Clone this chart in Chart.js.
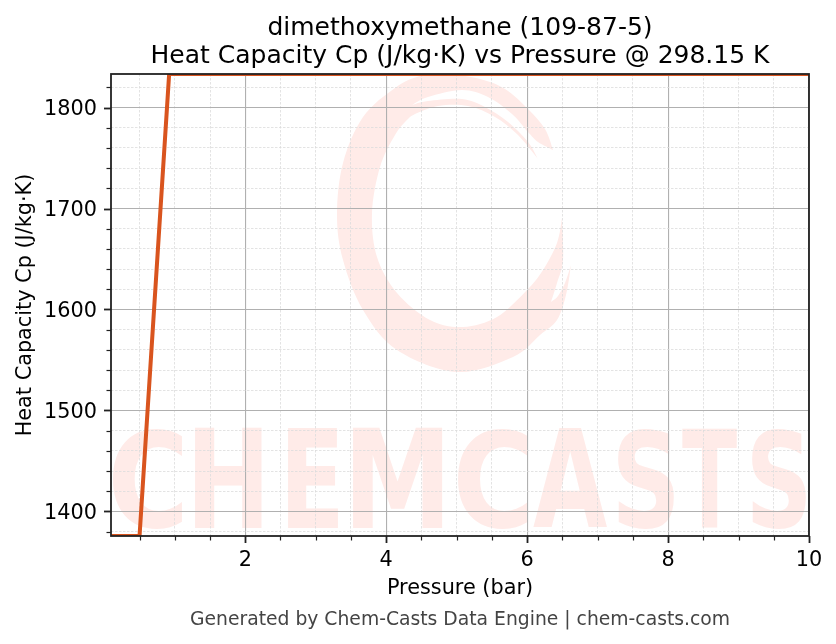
<!DOCTYPE html>
<html>
<head>
<meta charset="utf-8">
<style>
  html, body { margin: 0; padding: 0; background: #fff; }
  canvas { display: block; }
</style>
<script src="https://cdn.jsdelivr.net/npm/chart.js@4"></script>
</head>
<body>
<canvas id="myChart" width="836" height="644"></canvas>
<script>
var pressure = [0.1, 0.5, 0.92, 10];
var heatCapacity = [1375.7, 1375.7, 1833.2, 1833.2];
var titleLines = ['dimethoxymethane (109-87-5)', 'Heat Capacity Cp (J/kg·K) vs Pressure @ 298.15 K'];
var xLabel = 'Pressure (bar)';
var yLabel = 'Heat Capacity Cp (J/kg·K)';
var footer = 'Generated by Chem-Casts Data Engine | chem-casts.com';

var FONT = '"DejaVu Sans", sans-serif';
var DARK = '#222222';

// x offset of every watermark letter: [letter, left, right]
var markLetters = [['C', 112, 182], ['H', 195, 262], ['E', 288, 338], ['M', 353, 443],
    ['C', 457, 528], ['A', 533, 607], ['S', 618, 674], ['T', 682, 737], ['S', 752, 806]];

// brush ring outline, split at its sharp tips
var ringOuter = [[553, 150], [545, 129], [528, 109], [505, 89], [480, 79], [447, 74], [420, 76], [395, 88], [363, 117],
    [343, 163], [337, 215], [343, 260], [363, 310], [397, 350], [457, 372], [513, 357], [540, 335], [557, 320],
    [566, 295], [571, 265]];
var ringLowerTip = [[571, 265], [565, 283], [558, 296], [551, 302]];
var ringInnerTail = [[551, 302], [557, 283], [563, 260], [562, 218]];
var ringInner = [[562, 218], [557, 243], [543, 270], [527, 290], [497, 317], [463, 327], [430, 320], [397, 293],
    [377, 257], [372, 213], [380, 167], [395, 135], [408, 119], [415, 114]];
var ringStreakLow = [[415, 114], [438, 106], [468, 106], [495, 117], [518, 135], [538, 159]];
var ringStreakHigh = [[538, 159], [528, 142], [508, 122], [485, 107], [462, 99], [428, 101], [412, 105]];
var ringSlit = [[412, 105], [428, 97], [462, 90], [488, 97], [512, 114], [528, 132], [538, 142], [553, 150]];

// smooth line through the points
function curve(ctx, pts) {
    for (var i = 0; i < pts.length - 1; i++) {
        var p0 = pts[Math.max(i - 1, 0)], p1 = pts[i], p2 = pts[i + 1], p3 = pts[Math.min(i + 2, pts.length - 1)];
        ctx.bezierCurveTo(p1[0] + (p2[0] - p0[0]) / 6, p1[1] + (p2[1] - p0[1]) / 6,
            p2[0] - (p3[0] - p1[0]) / 6, p2[1] - (p3[1] - p1[1]) / 6, p2[0], p2[1]);
    }
}

function drawWatermark(chart) {
    var ctx = chart.ctx, a = chart.chartArea;
    ctx.save();
    ctx.beginPath();
    ctx.rect(a.left, a.top, a.right - a.left, a.bottom - a.top);
    ctx.clip();
    ctx.fillStyle = '#ffebe8';

    ctx.beginPath();
    ctx.moveTo(ringOuter[0][0], ringOuter[0][1]);
    [ringOuter, ringLowerTip, ringInnerTail, ringInner, ringStreakLow, ringStreakHigh, ringSlit].forEach(function(p) {
        curve(ctx, p);
    });
    ctx.closePath();
    ctx.fill();

    // name, stretched letter by letter into its slot
    ctx.font = 'bold 100px ' + FONT;
    ctx.textBaseline = 'alphabetic';
    markLetters.forEach(function(l) {
        var m = ctx.measureText(l[0]);
        var w = m.actualBoundingBoxRight + m.actualBoundingBoxLeft;
        var h = m.actualBoundingBoxAscent + m.actualBoundingBoxDescent;
        ctx.save();
        ctx.translate(l[1], 428);
        ctx.scale((l[2] - l[1]) / w, 100 / h);
        ctx.fillText(l[0], m.actualBoundingBoxLeft, m.actualBoundingBoxAscent);
        ctx.restore();
    });
    ctx.restore();
}

function drawFrame(chart) {
    var ctx = chart.ctx, a = chart.chartArea;
    var x = chart.scales.x, y = chart.scales.y;
    ctx.save();
    ctx.strokeStyle = DARK;
    x.ticks.forEach(function(t) {
        var major = isMajorX(t.value);
        var px = Math.round(x.getPixelForValue(t.value)) + 0.5;
        ctx.lineWidth = major ? 1.8 : 1.2;
        ctx.beginPath();
        ctx.moveTo(px, a.bottom);
        ctx.lineTo(px, a.bottom + (major ? 7 : 4.5));
        ctx.stroke();
    });
    y.ticks.forEach(function(t) {
        var major = isMajorY(t.value);
        var py = Math.round(y.getPixelForValue(t.value)) + 0.5;
        ctx.lineWidth = major ? 1.8 : 1.2;
        ctx.beginPath();
        ctx.moveTo(a.left, py);
        ctx.lineTo(a.left - (major ? 7 : 4.5), py);
        ctx.stroke();
    });
    ctx.lineWidth = 1.8;
    ctx.strokeRect(a.left, a.top, a.right - a.left, a.bottom - a.top);
    ctx.restore();
}

var chemPlugin = {
    id: 'chemPlugin',
    beforeDraw: drawWatermark,
    afterDraw: drawFrame
};

function gridStyle(isMajor) {
    return {
        drawTicks: false,
        color: function(c) { return isMajor(c.tick.value) ? '#b0b0b0' : '#dcdcdc'; },
        lineWidth: function(c) { return isMajor(c.tick.value) ? 1.1 : 0.8; }
    };
}

function borderStyle(isMajor) {
    return {
        display: false,
        dash: function(c) { return isMajor(c.tick.value) ? [] : [2.5, 1.5]; }
    };
}

function isMajorX(v) { return v % 2 === 0; }
function isMajorY(v) { return v % 100 === 0; }

new Chart(document.getElementById('myChart').getContext('2d'), {
    type: 'line',
    data: {
        labels: pressure,
        datasets: [{
            data: pressure.map(function(p, i) { return { x: p, y: heatCapacity[i] }; }),
            borderColor: '#d9541e',
            borderWidth: 4,
            pointRadius: 0,
            tension: 0,
            fill: false
        }]
    },
    plugins: [chemPlugin],
    options: {
        responsive: false,
        animation: false,
        layout: { padding: { left: 0, right: 27, top: 14, bottom: 12.5 } },
        plugins: {
            legend: { display: false },
            tooltip: { enabled: false },
            title: {
                display: true,
                text: titleLines,
                fullSize: false,
                color: '#000',
                font: { family: FONT, size: 25, weight: 'normal', lineHeight: 1.12 },
                padding: { top: 0, bottom: 4 }
            },
            subtitle: {
                display: true,
                position: 'bottom',
                text: footer,
                fullSize: false,
                color: '#444444',
                font: { family: FONT, size: 18.75, weight: 'normal', lineHeight: 1.2 },
                padding: { top: 8, bottom: 0 }
            }
        },
        scales: {
            x: {
                type: 'linear',
                min: 0.095,
                max: 10,
                afterFit: function(s) { s.height = 65; },
                grid: gridStyle(isMajorX),
                border: borderStyle(isMajorX),
                ticks: {
                    stepSize: 0.5,
                    includeBounds: false,
                    autoSkip: false,
                    maxRotation: 0,
                    padding: 12,
                    color: '#000',
                    font: { family: FONT, size: 20.8 },
                    callback: function(v) { return isMajorX(v) ? String(v) : ''; }
                },
                title: {
                    display: true,
                    text: xLabel,
                    color: '#000',
                    font: { family: FONT, size: 20.8 },
                    padding: { top: 4, bottom: 0 }
                }
            },
            y: {
                type: 'linear',
                min: 1375.7,
                max: 1833.2,
                afterFit: function(s) { s.width = 111; },
                grid: gridStyle(isMajorY),
                border: borderStyle(isMajorY),
                ticks: {
                    stepSize: 20,
                    includeBounds: false,
                    autoSkip: false,
                    padding: 14,
                    labelOffset: 2,
                    color: '#000',
                    font: { family: FONT, size: 20.8 },
                    callback: function(v) { return isMajorY(v) ? String(v) : ''; }
                },
                title: {
                    display: true,
                    text: yLabel,
                    color: '#000',
                    font: { family: FONT, size: 20.8 },
                    padding: { top: 13, bottom: 4 }
                }
            }
        }
    }
});
</script>
</body>
</html>
